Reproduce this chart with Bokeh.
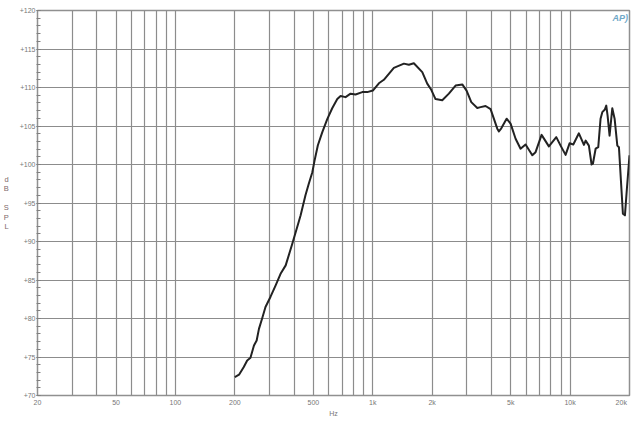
from bokeh.plotting import figure
from bokeh.embed import file_html
from bokeh.resources import INLINE
from bokeh.models import FixedTicker, Label

freq_hz = [200, 210, 222, 231, 240, 250, 258, 265, 275, 286, 303, 322, 341, 362, 391, 422, 431, 456, 474, 494, 507, 527, 555, 588, 623, 661, 687, 728, 772, 818, 885, 938, 1001, 1074, 1138, 1279, 1438, 1524, 1615, 1782, 1888, 1979, 2080, 2250, 2430, 2628, 2842, 2988, 3157, 3386, 3519, 3730, 3954, 4276, 4357, 4481, 4767, 4994, 5294, 5610, 5948, 6433, 6683, 7170, 7807, 8512, 8951, 9487, 9939, 10380, 11080, 11750, 11990, 12450, 12850, 13050, 13470, 13890, 14270, 14560, 15010, 15250, 15490, 15850, 16360, 16810, 17350, 17680, 18520, 18960, 19400, 20000]
spl_db = [72.4, 72.7, 73.7, 74.55, 74.9, 76.5, 77.15, 78.65, 80.0, 81.5, 82.8, 84.3, 85.8, 86.9, 89.7, 92.6, 93.4, 96.0, 97.5, 99.0, 100.5, 102.5, 104.2, 105.9, 107.3, 108.5, 108.9, 108.75, 109.2, 109.1, 109.4, 109.4, 109.6, 110.55, 111.0, 112.55, 113.1, 112.95, 113.15, 112.0, 110.5, 109.7, 108.5, 108.35, 109.2, 110.25, 110.4, 109.6, 108.1, 107.35, 107.45, 107.6, 107.2, 104.65, 104.3, 104.7, 105.95, 105.3, 103.35, 102.05, 102.6, 101.2, 101.6, 103.85, 102.35, 103.55, 102.45, 101.25, 102.75, 102.6, 104.05, 102.55, 103.1, 102.45, 100.0, 100.1, 102.05, 102.25, 105.95, 106.8, 107.15, 107.65, 106.35, 103.75, 107.3, 105.95, 102.45, 102.25, 93.6, 93.4, 96.85, 101.2]

x_grid = [30, 40, 50, 60, 70, 80, 90, 100, 200, 300, 400, 500, 600, 700, 800, 900, 1000, 2000, 3000, 4000, 5000, 6000, 7000, 8000, 9000, 10000]
x_labels = {20: "20", 50: "50", 100: "100", 200: "200", 500: "500", 1000: "1k", 2000: "2k", 5000: "5k", 10000: "10k", 20000: "20k\u00a0\u00a0\u00a0\u00a0\u00a0\u00a0\u00a0"}
y_ticks = [70, 75, 80, 85, 90, 95, 100, 105, 110, 115, 120]
y_minor = [v for v in range(70, 121)]
y_labels = {v: f"+{v}" for v in y_ticks}
FONT = "Liberation Sans"
GREY = "#777777"

p = figure(width=640, height=428, x_axis_type="log", x_range=(20, 20000), y_range=(70, 120),
           output_backend="svg", toolbar_location=None, min_border_left=37, min_border_right=11,
           min_border_top=10, min_border_bottom=33, background_fill_color="white",
           border_fill_color="white", outline_line_color="#909090", outline_line_width=1.5)
p.margin = 0

xa = p.xaxis[0]
xa.ticker = FixedTicker(ticks=list(x_labels))
xa.major_label_overrides = x_labels
xa.major_tick_line_color = None
xa.minor_tick_line_color = None
xa.major_tick_in = 0
xa.major_tick_out = 0
xa.minor_tick_in = 0
xa.minor_tick_out = 0
xa.axis_line_color = None
xa.major_label_text_font = FONT
xa.major_label_text_font_size = "7px"
xa.major_label_text_color = GREY
xa.major_label_standoff = 3
xa.axis_label = "Hz"
xa.axis_label_text_font = FONT
xa.axis_label_text_font_style = "normal"
xa.axis_label_text_font_size = "7px"
xa.axis_label_text_color = GREY
xa.axis_label_standoff = 1

ya = p.yaxis[0]
ya.ticker = FixedTicker(ticks=y_ticks, minor_ticks=y_minor)
ya.major_label_overrides = y_labels
ya.major_tick_in = 3
ya.major_tick_out = 1
ya.minor_tick_in = 3
ya.minor_tick_out = 1
ya.major_tick_line_color = "#808080"
ya.minor_tick_line_color = "#808080"
ya.axis_line_color = "#909090"
ya.major_label_text_font = FONT
ya.major_label_text_font_size = "7px"
ya.major_label_text_color = GREY
ya.major_label_standoff = 1
ya.axis_label = "d\nB\n\nS\nP\nL"
ya.axis_label_orientation = "horizontal"
ya.axis_label_text_font = FONT
ya.axis_label_text_font_style = "normal"
ya.axis_label_text_font_size = "7.5px"
ya.axis_label_text_color = "#806a6a"
ya.axis_label_text_line_height = 1.05
ya.axis_label_standoff = 8

p.xgrid.ticker = FixedTicker(ticks=x_grid)
p.xgrid.grid_line_color = "#8c8c8c"
p.xgrid.grid_line_width = 1.2
p.ygrid.ticker = FixedTicker(ticks=y_ticks)
p.ygrid.grid_line_color = "#8c8c8c"
p.ygrid.grid_line_width = 1.2

p.line(freq_hz, spl_db, line_color="#222222", line_width=2, line_join="round")

p.add_layout(Label(x=575, y=378, x_units="screen", y_units="screen", text="AP)",
                   text_font=FONT, text_font_size="9px", text_font_style="bold italic",
                   text_color="#6fa8c8", text_baseline="middle"))

open("out.html", "w").write(file_html(p, INLINE))
